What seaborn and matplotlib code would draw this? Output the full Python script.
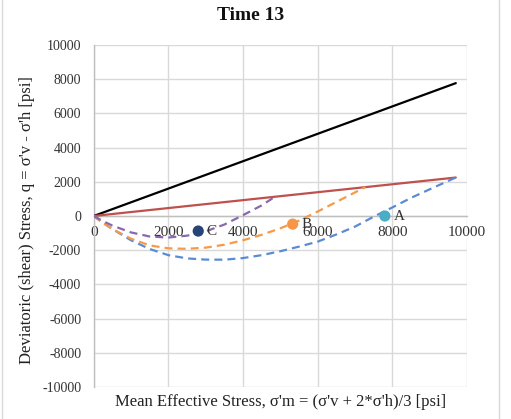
import matplotlib
matplotlib.use("Agg")
import matplotlib.pyplot as plt
import seaborn as sns
import pandas as pd
from matplotlib.lines import Line2D

# ---- data ----
black_p = [0, 9700]
black_q = [0, 7770]
red_p = [0, 9700]
red_q = [0, 2250]

blue_p = [0, 200, 500, 1000, 1500, 2000, 2500, 3000, 3500, 4000, 4500, 5000,
          5500, 6000, 6500, 7000, 7500, 8000, 8500, 9000, 9700]
blue_q = [0, -330, -760, -1420, -1930, -2290, -2480, -2550, -2555, -2460, -2290,
          -2060, -1790, -1500, -1080, -620, -40, 500, 1060, 1560, 2250]

orange_p = [0, 250, 500, 1000, 1500, 2000, 2500, 3000, 3500, 4000, 4500, 5000,
            5500, 6000, 6500, 7000, 7280]
orange_q = [0, -400, -760, -1330, -1720, -1890, -1920, -1850, -1680, -1420,
            -1100, -720, -270, 260, 820, 1380, 1690]

purple_p = [0, 250, 500, 1000, 1500, 2000, 2500, 3000, 3500, 4000, 4500, 4850]
purple_q = [0, -300, -560, -960, -1200, -1260, -1150, -900, -500, 50, 620, 1120]

pt_labels = ["A", "B", "C"]
pt_p = [7800, 5330, 2800]
pt_q = [0, -474, -880]

title = "Time 13"
xlabel = "Mean Effective Stress, σ'm = (σ'v + 2*σ'h)/3 [psi]"
ylabel = "Deviatoric (shear) Stress, q = σ'v - σ'h [psi]"
ticks = [-10000, -8000, -6000, -4000, -2000, 0, 2000, 4000, 6000, 8000, 10000]

sns.set_theme(style="white")
plt.rcParams["font.family"] = ["Liberation Serif", "DejaVu Serif"]

fig = plt.figure(figsize=(5.11, 4.19), dpi=100)
ax = fig.add_axes([93.7 / 511, 1 - 387 / 419, (467 - 93.7) / 511, (387 - 45) / 419])

grid_c = "#D9D9D9"
for t in ticks:
    ax.axhline(t, color=grid_c, lw=1.0, zorder=0)
for t in range(0, 10001, 2000):
    ax.axvline(t, color=grid_c, lw=1.0, zorder=0)

def frame(p, q):
    return pd.DataFrame({"p": p, "q": q})

sns.lineplot(data=frame(black_p, black_q), x="p", y="q", sort=False, ax=ax,
             color="black", lw=1.6, zorder=3)
sns.lineplot(data=frame(red_p, red_q), x="p", y="q", sort=False, ax=ax,
             color="#C0504D", lw=1.6, zorder=3)
for p, q, c in [(blue_p, blue_q, "#5B8BD5"), (orange_p, orange_q, "#F79A46"),
                (purple_p, purple_q, "#8A68B0")]:
    sns.lineplot(data=frame(p, q), x="p", y="q", sort=False, ax=ax, color=c,
                 lw=1.6, zorder=3, dashes=False, linestyle=(0, (3.6, 2.3)))

mcols = ["#4BACC6", "#F79646", "#264478"]
sns.scatterplot(x=pt_p, y=pt_q, hue=pt_labels, palette=mcols, s=65,
                edgecolor="none", legend=False, ax=ax, zorder=4)
for lab, p, q in zip(pt_labels, pt_p, pt_q):
    ax.text(p + 230, q, lab, fontsize=11, ha="left", va="center", zorder=5,
            color="#333333")

ax.set_xlim(0, 10000)
ax.set_ylim(-10000, 10000)
ax.set_xticks(range(0, 10001, 2000))
ax.set_yticks(ticks)
ax.set_xticklabels([str(v) for v in range(0, 10001, 2000)], fontsize=10)
ax.set_yticklabels([str(v) for v in ticks], fontsize=10)
for s in ["top", "right"]:
    ax.spines[s].set_visible(False)
ax.spines["bottom"].set_position(("data", 0))
ax.spines["bottom"].set_color("#BFBFBF")
ax.spines["left"].set_color("#BFBFBF")
ax.spines["bottom"].set_linewidth(1.0)
ax.spines["left"].set_linewidth(1.0)
ax.tick_params(axis="both", length=0, colors="#333333")
ax.tick_params(axis="x", pad=7)
ax.tick_params(axis="y", pad=9)

ax.set_xlabel("")
ax.set_ylabel("")
fig.text((93.7 + 467) / 2 / 511, 1 - 402 / 419, xlabel, ha="center", va="center",
         fontsize=12, color="#222222")
fig.text(27 / 511, 1 - 220 / 419, ylabel, ha="center", va="center", rotation=90,
         fontsize=12, color="#222222")
fig.text(251 / 511, 1 - 16 / 419, title, ha="center", va="center", fontsize=14,
         fontweight="bold", color="#111111")

fig.add_artist(Line2D([1.5 / 511, 1.5 / 511], [0, 1], transform=fig.transFigure,
                      color="#D9D9D9", lw=1))
fig.add_artist(Line2D([499 / 511, 499 / 511], [0, 1], transform=fig.transFigure,
                      color="#D9D9D9", lw=1))

fig.savefig("out.png", dpi=100)
